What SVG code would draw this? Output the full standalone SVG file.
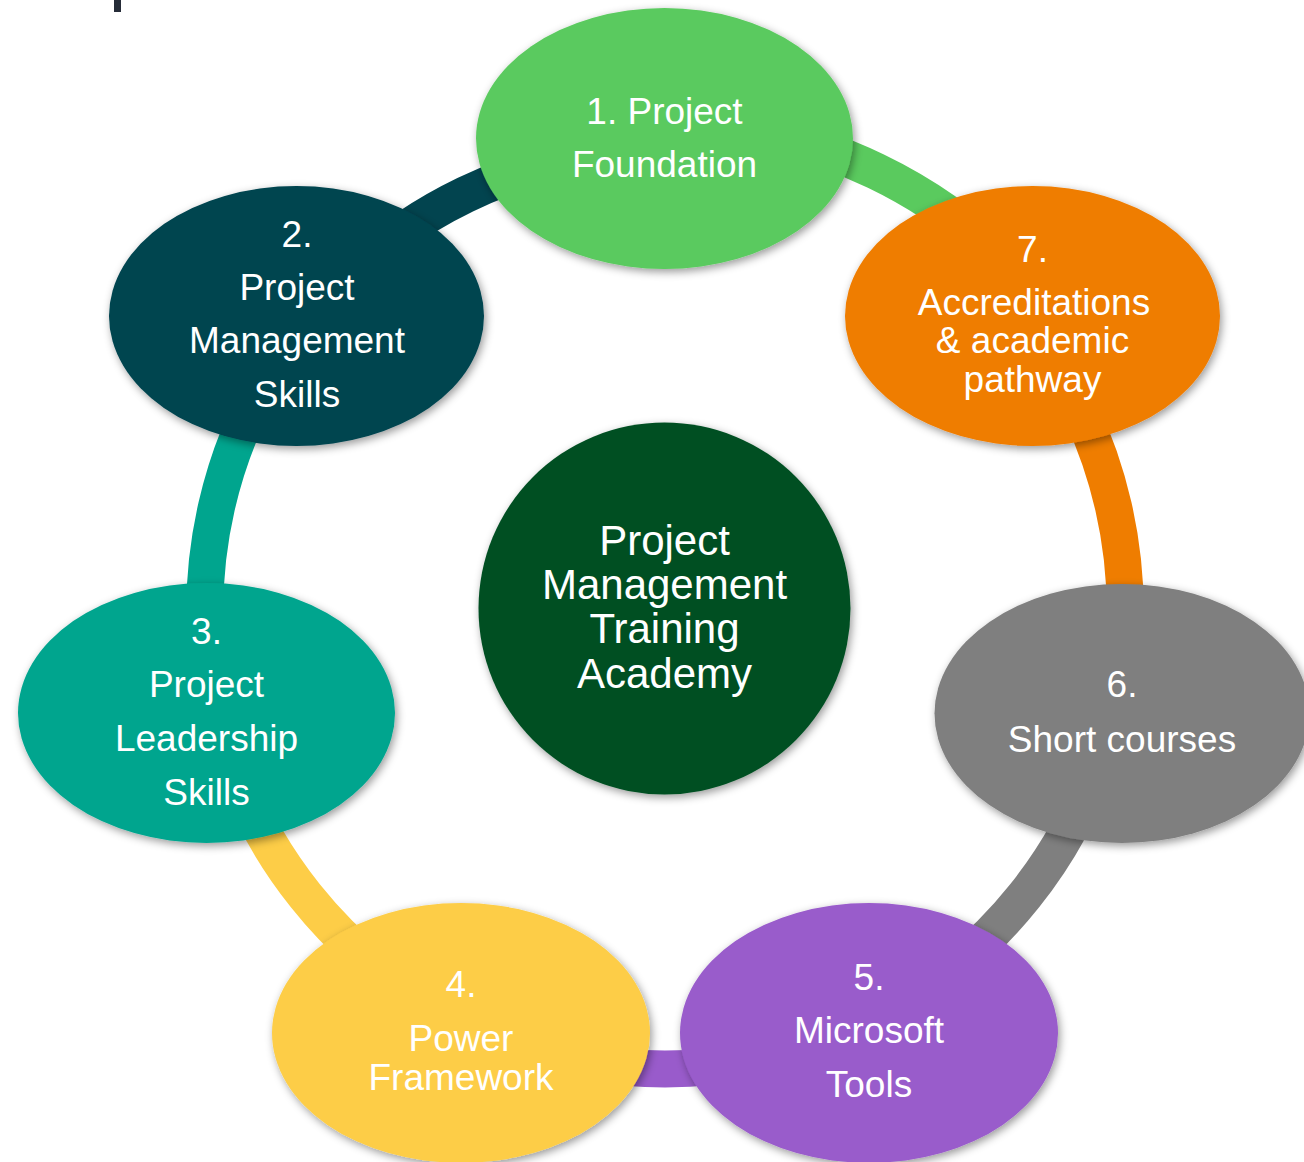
<svg xmlns="http://www.w3.org/2000/svg" width="1304" height="1162" viewBox="0 0 1304 1162">
<defs>
<filter id="sh" x="-20%" y="-20%" width="140%" height="140%">
<feDropShadow dx="2" dy="3" stdDeviation="4" flood-color="#000" flood-opacity="0.4"/>
</filter>
<style>
.arc{fill:none;stroke-width:37;stroke-linecap:butt}
.lbl{font-family:"Liberation Sans",Arial,sans-serif;font-size:37px;fill:#fff;text-anchor:middle}
.big{font-size:42px}
.node ellipse,.node circle{filter:url(#sh)}
</style>
</defs>
<rect x="0" y="0" width="1304" height="1162" fill="#fff"/>
<rect x="114" y="0" width="7" height="12" fill="#262C38"/>
<g id="connectors">
<path class="arc" stroke="#5ACA5E" d="M665,123 A486,486 0 0 1 1045,306"/>
<path class="arc" stroke="#EF7D00" d="M1024.64,322.19 A460,460 0 0 1 1113.47,711.36"/>
<path class="arc" stroke="#7F7F7F" d="M1113.47,711.36 A460,460 0 0 1 864.58,1023.45"/>
<path class="arc" stroke="#995BCB" d="M864.58,1023.45 A460,460 0 0 1 465.42,1023.45"/>
<path class="arc" stroke="#FDCD47" d="M465.42,1023.45 A460,460 0 0 1 216.53,711.36"/>
<path class="arc" stroke="#00A58E" d="M216.53,711.36 A460,460 0 0 1 305.36,322.19"/>
<path class="arc" stroke="#02444F" d="M305.36,322.19 A460,460 0 0 1 665,149"/>
</g>
<g id="center" class="node">
<circle cx="664.5" cy="608.5" r="186" fill="#024F24"/>
<text class="lbl big" x="664.5" y="555">Project</text>
<text class="lbl big" x="664.5" y="599">Management</text>
<text class="lbl big" x="664.5" y="643">Training</text>
<text class="lbl big" x="664.5" y="688">Academy</text>
</g>
<g id="node1" class="node">
<ellipse cx="664.5" cy="138.5" rx="188.5" ry="130.5" fill="#5ACA5E"/>
<text class="lbl" x="664.5" y="124">1. Project</text>
<text class="lbl" x="664.5" y="177">Foundation</text>
</g>
<g id="node7" class="node">
<ellipse cx="1032.5" cy="316" rx="187.5" ry="130" fill="#EF7D00"/>
<text class="lbl" x="1032.5" y="262">7.</text>
<text class="lbl" x="1034" y="315">Accreditations</text>
<text class="lbl" x="1032.5" y="353">&amp; academic</text>
<text class="lbl" x="1032.5" y="392">pathway</text>
</g>
<g id="node6" class="node">
<ellipse cx="1122" cy="713.5" rx="187.5" ry="129.5" fill="#7F7F7F"/>
<text class="lbl" x="1122" y="697">6.</text>
<text class="lbl" x="1122" y="752">Short courses</text>
</g>
<g id="node5" class="node">
<ellipse cx="869" cy="1033" rx="189" ry="130" fill="#995BCB"/>
<text class="lbl" x="869" y="990">5.</text>
<text class="lbl" x="869" y="1043">Microsoft</text>
<text class="lbl" x="869" y="1097">Tools</text>
</g>
<g id="node4" class="node">
<ellipse cx="461" cy="1033" rx="189" ry="130" fill="#FDCD47"/>
<text class="lbl" x="461" y="997">4.</text>
<text class="lbl" x="461" y="1051">Power</text>
<text class="lbl" x="461" y="1090">Framework</text>
</g>
<g id="node3" class="node">
<ellipse cx="206.5" cy="713" rx="188.5" ry="130" fill="#00A58E"/>
<text class="lbl" x="206.5" y="644">3.</text>
<text class="lbl" x="206.5" y="697">Project</text>
<text class="lbl" x="206.5" y="751">Leadership</text>
<text class="lbl" x="206.5" y="805">Skills</text>
</g>
<g id="node2" class="node">
<ellipse cx="296.5" cy="316" rx="187.5" ry="130" fill="#02444F"/>
<text class="lbl" x="297" y="247">2.</text>
<text class="lbl" x="297" y="300">Project</text>
<text class="lbl" x="297" y="353">Management</text>
<text class="lbl" x="297" y="407">Skills</text>
</g>
</svg>
